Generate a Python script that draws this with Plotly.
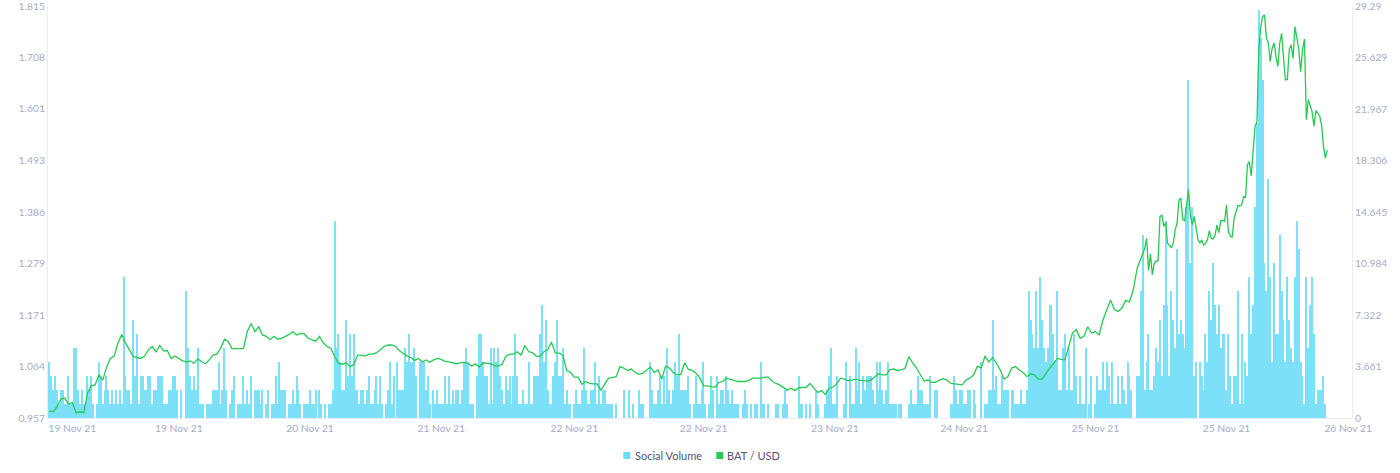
import pandas as pd
import plotly.graph_objects as go

# Social Volume, one bar per 15 minutes
social_volume_a = [
    4, 3, 2, 3, 2, 1, 2, 2, 1, 1, 3, 1, 1, 5, 5, 2, 1, 2, 1, 1,
    3, 2, 3, 1, 0, 1, 4, 3, 1, 2, 3, 2, 1, 2, 1, 2, 1, 2, 1, 10,
    3, 2, 2, 1, 7, 3, 6, 1, 3, 3, 2, 2, 3, 3, 1, 2, 2, 3, 3, 3,
    1, 1, 1, 2, 2, 3, 3, 2, 0, 2, 0, 0, 9, 5, 3, 2, 3, 2, 5, 1,
]
social_volume_b = [
    1, 1, 0, 1, 1, 1, 2, 2, 2, 4, 1, 2, 5, 2, 0, 1, 2, 3, 0, 1,
    1, 1, 3, 1, 2, 1, 3, 0, 2, 2, 2, 1, 2, 0, 1, 2, 0, 1, 1, 3,
    1, 4, 2, 2, 2, 0, 1, 1, 2, 1, 3, 2, 1, 0, 1, 1, 1, 2, 1, 1,
    2, 0, 2, 1, 0, 1, 0, 1, 1, 2, 14, 5, 6, 4, 2, 2, 7, 3, 6, 3,
]
social_volume_c = [
    6, 2, 2, 1, 2, 2, 1, 2, 3, 1, 1, 2, 3, 1, 3, 1, 0, 1, 2, 4,
    1, 3, 0, 4, 2, 2, 2, 5, 4, 6, 4, 4, 5, 3, 0, 4, 4, 4, 2, 3,
    1, 0, 2, 1, 2, 1, 1, 1, 3, 1, 3, 1, 2, 1, 2, 2, 1, 2, 4, 5,
    4, 1, 1, 1, 0, 3, 6, 6, 4, 3, 3, 1, 5, 1, 5, 4, 5, 3, 2, 1,
]
social_volume_d = [
    3, 2, 3, 1, 3, 6, 3, 1, 1, 2, 1, 1, 4, 1, 1, 3, 3, 3, 6, 8,
    4, 7, 2, 1, 1, 3, 4, 7, 3, 3, 5, 1, 2, 1, 1, 0, 1, 2, 1, 1,
    2, 5, 2, 1, 1, 2, 2, 4, 1, 3, 1, 2, 2, 1, 1, 1, 1, 0, 1, 0,
    0, 0, 2, 0, 0, 2, 0, 1, 0, 0, 2, 1, 1, 0, 0, 0, 4, 2, 1, 1,
    2, 3, 1, 3, 1, 5, 2, 1, 2, 4, 3, 6, 2, 2, 2, 2, 3, 1, 0, 1,
    3, 1,
]
social_volume_e = [
    1, 2, 4, 1, 0, 1, 3, 2, 0, 3, 1, 2, 2, 1, 3, 2, 1, 2, 1, 1,
    1, 0, 0, 1, 2, 1, 0, 1, 0, 1, 1, 0, 4, 1, 1, 0, 1, 0, 0, 0,
    1, 1, 0, 0, 1, 2, 1, 0, 0, 0, 0, 0, 3, 1, 1, 0, 1, 0, 1, 0,
    0, 2, 1, 0, 0, 0, 1, 2, 3, 5, 1, 1, 3, 0, 0, 0, 1, 4, 0, 3,
    1, 1, 5, 2, 4, 1, 3, 2, 3, 3, 3, 2, 1, 4, 2, 4, 2, 1, 2, 4,
    1, 1, 1, 1, 0, 1, 1, 0, 0, 0, 1, 2, 1, 1, 1, 3, 2, 2, 1, 1,
    1, 3, 0, 0, 2, 2, 0, 0, 0, 0, 0, 0, 1, 1, 3, 2, 1, 2, 2, 1,
    1, 2, 2, 0, 2, 1, 0, 0, 4, 0, 1, 1, 2, 2, 7, 2, 3, 1, 1, 3,
]
social_volume_f = [
    2, 2, 2, 0, 2, 2, 1, 1, 1, 2, 1, 1, 2, 9, 7, 6, 5, 9, 5, 10,
    7, 5, 4, 5, 8, 8, 6, 4, 9, 2, 2, 5, 6, 2, 5, 2, 2, 6, 3, 1,
    3, 1, 1, 5, 0, 1, 3, 0, 1, 3, 2, 2, 4, 2, 4, 3, 1, 4, 1, 1,
    3, 1, 3, 2, 1, 4, 3, 2, 0, 0, 3, 3, 9, 13, 2, 4, 6, 2, 2, 3,
    5, 4, 7, 3, 8, 14, 8,
]
social_volume_g = [
    3, 9, 7, 5, 12, 6, 7, 6, 5, 15, 24, 11, 15, 3, 4, 0, 4, 3, 2, 6,
    4, 9, 7, 11, 8, 6, 8, 5, 6, 6, 2, 6, 3, 1, 3, 3, 9, 1, 6, 1,
    4, 3, 10, 6, 8, 15, 21, 29, 27, 24, 11, 9, 17, 10, 4, 11, 6, 6, 13, 9,
    7, 4, 10, 7, 5, 4, 10, 14, 12, 4, 3, 1, 10, 5, 8, 10, 6, 1, 2, 2,
    2, 3, 1,
]

# BAT / USD, read every 30 minutes, then every 15 minutes through the spike
bat_usd_a = [
    0.972, 0.970, 0.981, 0.997, 0.998, 0.986, 0.989, 0.968, 0.970, 0.968,
    1.009, 1.024, 1.026, 1.047, 1.036, 1.063, 1.081, 1.086, 1.113, 1.131,
    1.113, 1.099, 1.085, 1.083, 1.081, 1.086, 1.099, 1.106, 1.095, 1.108,
    1.097, 1.097, 1.081, 1.086, 1.081, 1.076, 1.074, 1.076, 1.071, 1.080,
    1.074, 1.070, 1.078, 1.088, 1.090, 1.102, 1.121, 1.116, 1.101, 1.102,
    1.101, 1.102, 1.137, 1.154, 1.137, 1.147, 1.130, 1.127, 1.120, 1.127,
    1.121, 1.123, 1.127, 1.131, 1.137, 1.130, 1.133, 1.132, 1.123, 1.120,
    1.117, 1.127, 1.113, 1.106, 1.102, 1.085, 1.071, 1.069, 1.072, 1.064,
]
bat_usd_b = [
    1.068, 1.088, 1.088, 1.086, 1.090, 1.090, 1.093, 1.099, 1.106, 1.109,
    1.109, 1.106, 1.097, 1.092, 1.086, 1.083, 1.077, 1.081, 1.074, 1.078,
    1.073, 1.078, 1.081, 1.079, 1.075, 1.074, 1.072, 1.070, 1.072, 1.073,
    1.071, 1.065, 1.070, 1.063, 1.072, 1.071, 1.070, 1.066, 1.065, 1.069,
    1.085, 1.090, 1.090, 1.095, 1.088, 1.108, 1.095, 1.093, 1.086, 1.085,
    1.095, 1.099, 1.115, 1.092, 1.092, 1.088, 1.056, 1.052, 1.042, 1.042,
    1.027, 1.033, 1.029, 1.028, 1.028, 1.015, 1.029, 1.040, 1.041, 1.043,
    1.064, 1.061, 1.056, 1.059, 1.052, 1.048, 1.050, 1.057, 1.063, 1.052,
    1.057, 1.038, 1.065, 1.061, 1.052, 1.047, 1.048, 1.072, 1.058, 1.056,
    1.050, 1.041,
]
bat_usd_c = [
    1.024, 1.024, 1.022, 1.021, 1.031, 1.033, 1.040, 1.038, 1.036, 1.033,
    1.033, 1.033, 1.036, 1.040, 1.040, 1.040, 1.042, 1.042, 1.034, 1.029,
    1.026, 1.021, 1.015, 1.019, 1.014, 1.020, 1.021, 1.021, 1.029, 1.019,
    1.010, 1.014, 1.006, 1.019, 1.021, 1.028, 1.040, 1.038, 1.035, 1.036,
    1.038, 1.036, 1.035, 1.034, 1.036, 1.043, 1.049, 1.047, 1.047, 1.058,
    1.059, 1.056, 1.057, 1.061, 1.085, 1.071, 1.061, 1.047, 1.034, 1.036,
    1.031, 1.031, 1.036, 1.039, 1.036, 1.029, 1.028, 1.026, 1.026, 1.036,
    1.040, 1.047, 1.065, 1.061, 1.086, 1.074, 1.083, 1.071, 1.057, 1.038,
    1.043, 1.061, 1.064, 1.057, 1.052, 1.043, 1.049, 1.047, 1.038, 1.038,
    1.050,
]
bat_usd_d = [
    1.061, 1.070, 1.081, 1.079, 1.078, 1.106, 1.134, 1.141, 1.123, 1.127,
    1.147, 1.134, 1.137, 1.130, 1.161, 1.182, 1.203, 1.183, 1.179, 1.186,
    1.202, 1.199, 1.224, 1.269, 1.290, 1.310,
]
bat_usd_spike = [
    1.331, 1.264, 1.299, 1.255, 1.279, 1.284, 1.284, 1.376, 1.380, 1.356,
    1.364, 1.321, 1.317, 1.311, 1.321, 1.349, 1.363, 1.411, 1.415, 1.370,
    1.368, 1.401, 1.432, 1.380, 1.359, 1.377, 1.349, 1.328, 1.322, 1.328,
    1.317, 1.321, 1.328, 1.347, 1.331, 1.330, 1.338, 1.359, 1.343, 1.368,
    1.368, 1.366, 1.401, 1.345, 1.336, 1.333, 1.373, 1.387, 1.399, 1.399,
    1.401, 1.418, 1.416, 1.484, 1.491, 1.461, 1.515, 1.564, 1.574, 1.724,
    1.772, 1.793, 1.796, 1.748, 1.738, 1.699, 1.727, 1.738, 1.710, 1.689,
    1.738, 1.758, 1.706, 1.661, 1.662, 1.724, 1.734, 1.706, 1.772, 1.744,
    1.724, 1.678, 1.724, 1.746, 1.578, 1.620, 1.606, 1.595, 1.565, 1.597,
    1.592, 1.586, 1.567, 1.522, 1.498, 1.515,
]

left_ticks = [0.957, 1.064, 1.171, 1.279, 1.386, 1.493, 1.601, 1.708, 1.815]
right_ticks = [0, 3.661, 7.322, 10.984, 14.645, 18.306, 21.967, 25.629, 29.29]
date_ticks = [
    "2021-11-19 09:45", "2021-11-19 23:45", "2021-11-20 17:00",
    "2021-11-21 10:15", "2021-11-22 03:45", "2021-11-22 20:45",
    "2021-11-23 14:00", "2021-11-24 07:00", "2021-11-25 00:15",
    "2021-11-25 17:30", "2021-11-26 09:30",
]

social_volume = (social_volume_a + social_volume_b + social_volume_c + social_volume_d
                 + social_volume_e + social_volume_f + social_volume_g)
bat_usd_halfhour = bat_usd_a + bat_usd_b + bat_usd_c + bat_usd_d

start = pd.Timestamp("2021-11-19 06:45")
bar_times = pd.date_range(start, periods=len(social_volume), freq="15min")
line_times = list(pd.date_range(start, periods=len(bat_usd_halfhour), freq="30min"))
line_times += list(pd.date_range(line_times[-1] + pd.Timedelta(minutes=15),
                                 periods=len(bat_usd_spike), freq="15min"))

BAR_COLOR = "#7ce0f8"
BAR_SWATCH = "#6ddcf7"
LINE_COLOR = "#26c953"
TICK_COLOR = "#a4acc9"
AXIS_COLOR = "#e9ecf6"
LEGEND_TEXT = "#505573"
FONT = "Lato"

fig = go.Figure()

fig.add_trace(go.Bar(
    x=bar_times,
    y=social_volume,
    name="Social Volume",
    marker=dict(color=BAR_COLOR, line=dict(width=0)),
    width=15 * 60 * 1000 * 0.65,
    yaxis="y",
))
fig.add_trace(go.Scatter(
    x=line_times,
    y=bat_usd_halfhour + bat_usd_spike,
    mode="lines",
    name="BAT / USD",
    line=dict(color=LINE_COLOR, width=1.3),
    yaxis="y2",
))

# the legend sits tight, square swatch close to its text; the built-in one
# can't get that close so it's drawn by hand in paper coordinates
for text, text_x, swatch_x0, swatch_x1, swatch_color in [
    ("Social Volume", 0.4496, 0.4412, 0.4465, BAR_SWATCH),
    ("BAT / USD", 0.5201, 0.5125, 0.5178, LINE_COLOR),
]:
    fig.add_annotation(
        text=text, x=text_x, y=-0.091, xref="paper", yref="paper",
        xanchor="left", yanchor="middle", showarrow=False, borderpad=0,
        font=dict(size=11, color=LEGEND_TEXT),
    )
    fig.add_shape(
        type="rect", xref="paper", yref="paper",
        x0=swatch_x0, x1=swatch_x1, y0=-0.0995, y1=-0.0825,
        fillcolor=swatch_color, line=dict(width=0),
    )

axis_style = dict(
    ticks="",
    showgrid=False,
    zeroline=False,
    showline=True,
    linecolor=AXIS_COLOR,
    ticklabeloverflow="allow",
    automargin=False,
)

fig.update_layout(
    width=1400,
    height=473,
    margin=dict(l=47.5, r=48, t=6, b=55),
    plot_bgcolor="white",
    paper_bgcolor="white",
    bargap=0,
    showlegend=False,
    font=dict(family=FONT, size=10.3, color=TICK_COLOR),
    xaxis=dict(
        type="date",
        range=[start - pd.Timedelta(minutes=12), start + pd.Timedelta(minutes=15 * 685)],
        tickmode="array",
        tickvals=date_ticks,
        tickformat="%d %b %y",
        ticklabelstandoff=1,
        **axis_style,
    ),
    yaxis=dict(
        side="right",
        range=[0, 29.29],
        tickmode="array",
        tickvals=right_ticks,
        ticktext=[str(v) for v in right_ticks],
        **axis_style,
    ),
    yaxis2=dict(
        side="left",
        overlaying="y",
        range=[0.957, 1.815],
        tickmode="array",
        tickvals=left_ticks,
        ticktext=[f"{v:.3f}" for v in left_ticks],
        **axis_style,
    ),
)

# page body has a default margin that would push the plot off its spot
fig.write_html(
    "out.html",
    config=dict(displayModeBar=False),
    post_script="document.body.style.margin = '0';",
)
